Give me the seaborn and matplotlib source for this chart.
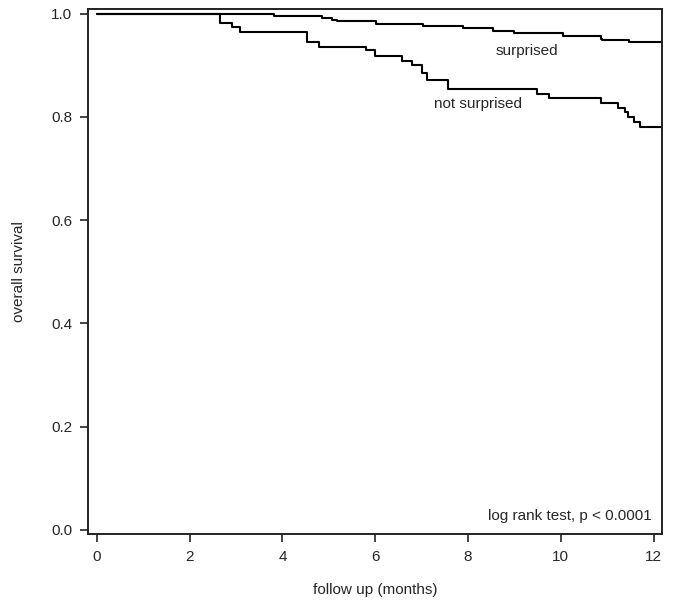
import numpy as np
import pandas as pd
import matplotlib
matplotlib.use('Agg')
import matplotlib.pyplot as plt
import seaborn as sns

# Kaplan-Meier steps (time in months, survival)
surprised_t = [0, 3.81, 4.85, 5.07, 5.17, 6.02, 7.04, 7.89, 8.55, 9.0,
               10.04, 10.86, 10.9, 11.48, 12.3]
surprised_s = [1.0, 0.996, 0.992, 0.988, 0.985, 0.981, 0.977, 0.972, 0.966, 0.962,
               0.957, 0.952, 0.949, 0.946, 0.946]

not_surprised_t = [0, 2.66, 2.92, 3.09, 4.54, 4.79, 5.8, 6.0, 6.57, 6.79,
                   7.01, 7.12, 7.58, 9.48, 9.75, 10.86, 11.24, 11.39, 11.46,
                   11.57, 11.71, 12.3]
not_surprised_s = [1.0, 0.983, 0.975, 0.965, 0.946, 0.936, 0.929, 0.918, 0.909, 0.900,
                   0.886, 0.872, 0.854, 0.845, 0.836, 0.827, 0.818, 0.809, 0.800,
                   0.791, 0.781, 0.781]

x_ticks = [0, 2, 4, 6, 8, 10, 12]
y_ticks = [0.0, 0.2, 0.4, 0.6, 0.8, 1.0]

df = pd.concat([
    pd.DataFrame({'time': surprised_t, 'surv': surprised_s, 'group': 'surprised'}),
    pd.DataFrame({'time': not_surprised_t, 'surv': not_surprised_s, 'group': 'not surprised'}),
])

sns.set_style('ticks')
plt.rcParams['font.family'] = ['Liberation Sans', 'DejaVu Sans']

fig = plt.figure(figsize=(6.74, 6.07), dpi=100)
ax = fig.add_axes([0.1306, 0.1203, 0.982 - 0.1306, 0.985 - 0.1203])

sns.lineplot(data=df, x='time', y='surv', hue='group', estimator=None,
             palette={'surprised': 'black', 'not surprised': 'black'},
             drawstyle='steps-post', linewidth=1.5, legend=False, ax=ax)

ax.set_xlim(-0.19, 12.18)
ax.set_ylim(-0.008, 1.009)
ax.set_xticks(x_ticks)
ax.set_yticks(y_ticks)
ax.set_yticklabels(['%.1f' % v for v in y_ticks])

for s in ax.spines.values():
    s.set_visible(True)
    s.set_linewidth(1.4)
    s.set_color('#222222')
ax.tick_params(direction='out', length=5.5, width=1.2, labelsize=11, pad=6, color='#222222')

ax.set_xlabel('follow up (months)', fontsize=11, labelpad=14)
ax.set_ylabel('overall survival', fontsize=11, labelpad=18)

ax.text(9.27, 0.928, 'surprised', fontsize=11, ha='center', va='center')
ax.text(8.22, 0.825, 'not surprised', fontsize=11, ha='center', va='center')
ax.text(11.97, 0.027, 'log rank test, p < 0.0001', fontsize=11, ha='right', va='center')

fig.savefig('out.png', dpi=100)
